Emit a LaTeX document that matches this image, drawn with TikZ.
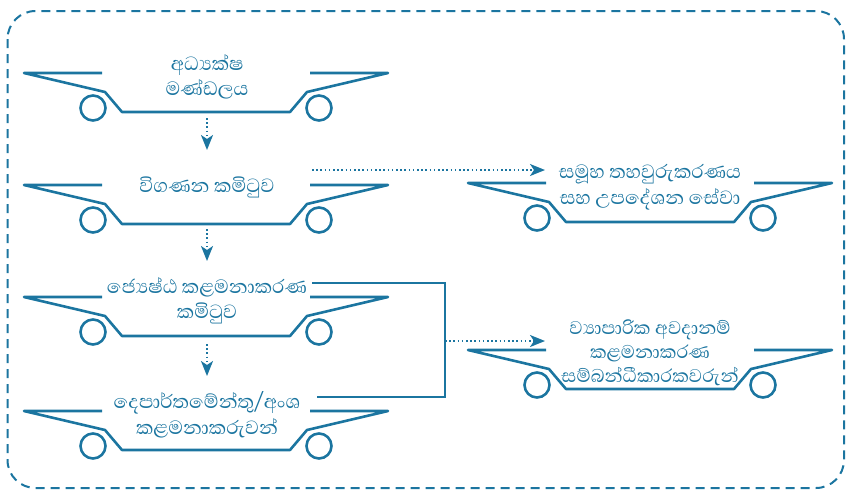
\documentclass[tikz,border=0pt]{standalone}
\usepackage{fontspec}
\newfontfamily\sinhalafont[Script=Sinhala]{Abhaya Libre}
\usetikzlibrary{arrows.meta}
\definecolor{cblue}{RGB}{27,117,160}
\tikzset{
  carline/.style={draw=cblue, line width=2.6pt, line join=round},
  lbl/.style={text=cblue, align=center, inner sep=0pt, font={\sinhalafont\fontsize{24.5}{25.5}\selectfont}},
  dotarrow/.style={draw=cblue, line width=2pt, dash pattern=on 1.6pt off 2.6pt,
    -{Stealth[length=15pt,width=12pt,inset=4pt]}},
  bracket/.style={draw=cblue, line width=2.6pt},
  pics/car/.style={code={
    \draw[carline] (77,0) -- (-1,0) -- (80,19) -- (97,39) -- (265,39) -- (282,19) -- (363,0) -- (285,0);
    \draw[carline] (68,35) circle[radius=12.5];
    \draw[carline] (294,35) circle[radius=12.5];
  }}
}
\begin{document}
\begin{tikzpicture}[x=1pt,y=-1pt]
\useasboundingbox (0,0) rectangle (846,491);
\draw[cblue, line width=2pt, dash pattern=on 9pt off 6pt, rounded corners=28pt] (7.5,11) rectangle (844,488);

\pic at (25,73) {car};
\pic at (25,185) {car};
\pic at (25,297) {car};
\pic at (25,411) {car};
\pic at (469,183) {car};
\pic at (469,350) {car};

\node[lbl] (t1) at (207,77) {අධ්‍යක්ෂ\\මණ්ඩලය};
\node[lbl] (t2) at (207,187) {විගණන කමිටුව};
\node[lbl] (t3) at (207,301) {ජ්‍යෙෂ්ඨ කළමනාකරණ\\කමිටුව};
\node[lbl] (t4) at (207,415) {දෙපාර්තමේන්තු/අංශ\\කළමනාකරුවන්};
\node[lbl] (t5) at (650,187) {සමූහ තහවුරුකරණය\\සහ උපදේශන සේවා};
\node[lbl, font={\sinhalafont\fontsize{23.5}{24}\selectfont}] (t6) at (650,353) {ව්‍යාපාරික අවදානම්\\කළමනාකරණ\\සම්බන්ධීකාරකවරුන්};

\coordinate (a1s) at (207,118);
\coordinate (a1e) at (207,150);
\coordinate (a2s) at (207,229);
\coordinate (a2e) at (207,261);
\coordinate (a3s) at (207,344);
\coordinate (a3e) at (207,376);
\coordinate (a4s) at (312,170);
\coordinate (a4e) at (545,170);
\coordinate (b1) at (312,283);
\coordinate (b2) at (445,283);
\coordinate (b3) at (445,397);
\coordinate (b4) at (317,397);
\coordinate (a5s) at (445,341);
\coordinate (a5e) at (545,341);

\draw[dotarrow] (a1s) -- (a1e);
\draw[dotarrow] (a2s) -- (a2e);
\draw[dotarrow] (a3s) -- (a3e);
\draw[dotarrow] (a4s) -- (a4e);
\draw[bracket] (b1) -- (b2) -- (b3) -- (b4);
\draw[dotarrow] (a5s) -- (a5e);
\end{tikzpicture}
\end{document}
